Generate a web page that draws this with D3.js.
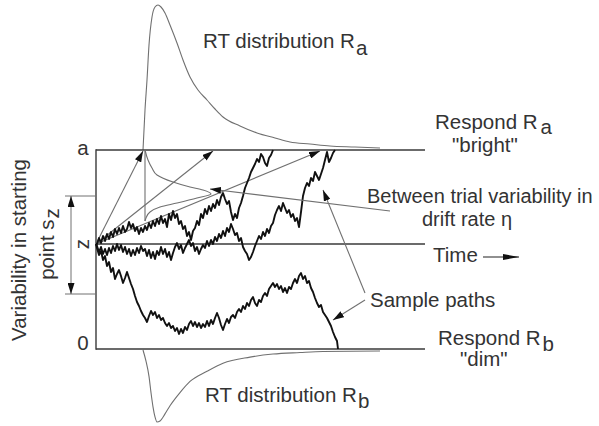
<!DOCTYPE html>
<html>
<head>
<meta charset="utf-8">
<script src="https://cdn.jsdelivr.net/npm/d3@7"></script>
<style>
  html, body { margin: 0; padding: 0; background: #fff; }
  svg { display: block; }
  text { font-family: "Liberation Sans", Arial, Helvetica, sans-serif; fill: #333; }
</style>
</head>
<body>
<svg id="chart" width="599" height="426"></svg>
<script>
// ---------- data (time units t, evidence units e) ----------
const boundaryA = 199;        // upper boundary "a"
const startZ = 105;           // starting point z
const szRange = [55, 153];    // range of starting point variability
const timeEnd = 329;          // extent of boundaries / time axis

// RT distribution at upper boundary [t, density]
const rtA = [[47,0],[49,40],[51,70],[53,105],[56,133],[59,143],[62,145],[65,143],[69,137],[74,125],
  [81,107],[87,90],[94,73],[102,60],[111,50],[119,41],[127,33],[144,24],[161,17],[179,12],[194,8],
  [214,6],[234,4],[259,3],[284,2]];
// RT distribution at lower boundary [t, density]
const rtB = [[47,0],[50,11],[53,26],[55,42],[57,56],[59,66],[61,71],[64,70],[69,63],[74,55],[84,42],
  [94,31],[111,21],[127,13],[154,7],[177,4],[204,2.5],[227,1.5],[284,1]];

// distribution of drift rates (drawn sideways) [e, density]
const driftAxisT = 49;
const driftDist = [[199,0],[189,3],[181,7],[174,12],[167,28],[162,45],[159,58],[155,66],[151,52],
  [146,32],[142,15],[137,5],[131,1],[128,0]];
// drift lines: end time where each mean drift reaches boundary a
const driftEnds = [47, 117, 224];

// sample paths [t, e]
const pathA = [[0,105],[1,105],[3,111],[5,106],[7,113],[9,108],[11,115],[13,110],[15,117],[17,112],[19,120],[21,115],[23,121],[25,116],[27,123],[29,117],[31,120],[33,127],[35,121],[37,125],[39,118],[41,122],[43,115],[45,121],[47,117],[49,123],[51,119],[53,126],[55,121],[57,128],[59,123],[61,130],[63,125],[65,133],[67,126],[69,130],[71,122],[73,135],[75,129],[77,138],[79,131],[81,135],[83,125],[85,128],[87,120],[89,123],[91,113],[93,117],[95,109],[97,118],[99,121],[101,128],[103,124],[105,135],[107,131],[109,140],[111,135],[113,143],[115,138],[117,145],[119,141],[121,149],[123,144],[125,152],[127,156],[129,150],[131,145],[133,148],[135,137],[137,129],[139,135],[141,131],[143,141],[145,146],[147,153],[149,161],[151,166],[153,171],[155,177],[157,181],[159,185],[161,190],[163,187],[165,195],[167,192],[169,186],[171,183],[173,191],[175,194],[177,199]];
const pathB = [[0,105],[1,103],[3,97],[5,102],[7,95],[9,100],[11,94],[13,101],[15,96],[17,103],[19,98],[21,105],[23,99],[25,104],[27,97],[29,102],[31,95],[33,100],[35,93],[37,99],[39,94],[41,101],[43,96],[45,103],[47,98],[49,100],[51,93],[53,99],[55,91],[57,97],[59,90],[61,98],[63,94],[65,102],[67,95],[69,100],[71,92],[73,97],[75,89],[77,96],[79,102],[81,106],[83,100],[85,104],[87,96],[89,101],[91,105],[93,109],[95,103],[97,106],[99,98],[101,102],[103,95],[105,100],[107,104],[109,101],[111,108],[113,103],[115,109],[117,105],[119,112],[121,108],[123,115],[125,111],[127,118],[129,113],[131,121],[133,117],[135,125],[137,120],[139,114],[141,116],[143,108],[145,111],[147,102],[149,98],[151,95],[153,89],[155,92],[157,97],[159,103],[161,108],[163,113],[165,110],[167,117],[169,113],[171,120],[173,116],[175,123],[177,126],[179,134],[181,139],[183,143],[185,138],[187,146],[189,141],[191,136],[193,139],[195,132],[197,135],[199,128],[201,131],[203,122],[205,137],[207,153],[209,161],[211,166],[213,163],[215,171],[217,168],[219,177],[221,173],[223,169],[225,175],[227,181],[229,189],[231,197],[233,187],[235,191],[237,196],[239,199]];
const pathC = [[0,105],[1,101],[3,94],[5,98],[7,89],[9,93],[11,83],[13,87],[15,77],[17,81],[19,70],[21,75],[23,79],[25,73],[27,66],[29,71],[31,77],[33,71],[35,65],[37,60],[39,53],[41,47],[43,43],[45,38],[47,34],[49,31],[51,27],[53,33],[55,38],[57,34],[59,37],[61,31],[63,34],[65,29],[67,31],[69,26],[71,23],[73,26],[75,21],[77,23],[79,18],[81,21],[83,15],[85,20],[87,16],[89,22],[91,19],[93,25],[95,28],[97,23],[99,27],[101,22],[103,26],[105,21],[107,25],[109,22],[111,28],[113,23],[115,29],[117,25],[119,31],[121,36],[123,31],[125,24],[127,19],[129,25],[131,30],[133,26],[135,32],[137,34],[139,31],[141,37],[143,40],[145,37],[147,43],[149,40],[151,46],[153,43],[155,49],[157,52],[159,46],[161,43],[163,49],[165,47],[167,53],[169,56],[171,53],[173,60],[175,63],[177,66],[179,62],[181,65],[183,60],[185,63],[187,57],[189,61],[191,56],[193,62],[195,60],[197,66],[199,70],[201,66],[203,73],[205,76],[207,70],[209,73],[211,66],[213,68],[215,61],[217,57],[219,51],[221,46],[223,42],[225,44],[227,37],[229,34],[231,31],[233,27],[235,23],[237,17],[239,12],[241,8],[242,0]];
const samplePaths = [pathA, pathB, pathC];

// annotation pointers [from [t,e], to [t,e]]
const etaPointer = [[294,138],[114,160]];
const samplePointers = [[[269,49],[237,29]], [[269,56],[227,159]]];

// ---------- drawing ----------
const svg = d3.select("#chart");
const x = d3.scaleLinear().domain([0, timeEnd]).range([96, 425]);
const y = d3.scaleLinear().domain([0, boundaryA]).range([349, 150]);
const dA = d3.scaleLinear().domain([0, 145]).range([y(boundaryA), y(boundaryA) - 145]);
const dB = d3.scaleLinear().domain([0, 71]).range([y(0) + 1, y(0) + 73]);
const off = d3.scaleLinear().domain([0, 329]).range([0, 329]);

const defs = svg.append("defs");
function marker(id, len, half, color) {
  defs.append("marker").attr("id", id)
    .attr("viewBox", `0 ${-half} ${len} ${2*half}`)
    .attr("refX", len).attr("refY", 0)
    .attr("markerUnits", "userSpaceOnUse")
    .attr("markerWidth", len).attr("markerHeight", 2*half)
    .attr("orient", "auto-start-reverse")
    .append("path").attr("d", `M0,${-half}L${len},0L0,${half}Z`).attr("fill", color);
}
marker("arr", 11, 3.5, "#111");
marker("arrT", 16, 3, "#111");

const gray = "#707070";
const dark = "#3a3a3a";

// RT distributions
svg.append("path").datum(rtA)
  .attr("d", d3.line().x(d => x(d[0])).y(d => dA(d[1])).curve(d3.curveMonotoneX))
  .attr("fill", "none").attr("stroke", gray).attr("stroke-width", 1.1);
svg.append("path").datum(rtB)
  .attr("d", d3.line().x(d => x(d[0])).y(d => dB(d[1])).curve(d3.curveMonotoneX))
  .attr("fill", "none").attr("stroke", gray).attr("stroke-width", 1.1);

// boundaries and time axis
[boundaryA, startZ, 0].forEach(v => {
  svg.append("line").attr("x1", x(0)).attr("x2", x(timeEnd)).attr("y1", y(v)).attr("y2", y(v))
    .attr("stroke", dark).attr("stroke-width", 1.4);
});
svg.append("line").attr("x1", x(0)).attr("x2", x(0)).attr("y1", y(0) + 0.7).attr("y2", y(boundaryA) - 0.7)
  .attr("stroke", dark).attr("stroke-width", 1.4);

// starting point variability bracket
szRange.forEach(v => {
  svg.append("line").attr("x1", x(-31)).attr("x2", x(0)).attr("y1", y(v)).attr("y2", y(v))
    .attr("stroke", gray).attr("stroke-width", 1);
});
svg.append("line").attr("x1", x(-25)).attr("x2", x(-25)).attr("y1", y(szRange[0])).attr("y2", y(szRange[1]))
  .attr("stroke", gray).attr("stroke-width", 1)
  .attr("marker-start", "url(#arr)").attr("marker-end", "url(#arr)");

// drift rate distribution (sideways)
svg.append("line").attr("x1", x(driftAxisT)).attr("x2", x(driftAxisT))
  .attr("y1", y(driftDist[0][0])).attr("y2", y(driftDist[driftDist.length - 1][0]))
  .attr("stroke", gray).attr("stroke-width", 1.1);
svg.append("path").datum(driftDist)
  .attr("d", d3.line().x(d => x(driftAxisT) + off(d[1])).y(d => y(d[0])).curve(d3.curveMonotoneY))
  .attr("fill", "none").attr("stroke", gray).attr("stroke-width", 1.1);

// drift lines
driftEnds.forEach(t => {
  svg.append("line").attr("x1", x(0)).attr("y1", y(startZ)).attr("x2", x(t)).attr("y2", y(boundaryA) + 1)
    .attr("stroke", gray).attr("stroke-width", 1.1).attr("marker-end", "url(#arr)");
});

// sample paths
const pl = d3.line().x(d => x(d[0])).y(d => y(d[1]));
svg.selectAll("path.sample").data(samplePaths).join("path").attr("class", "sample")
  .attr("d", pl).attr("fill", "none").attr("stroke", "#111").attr("stroke-width", 1.9)
  .attr("stroke-linejoin", "round");

// pointers
svg.append("line").attr("x1", x(etaPointer[0][0])).attr("y1", y(etaPointer[0][1]))
  .attr("x2", x(etaPointer[1][0])).attr("y2", y(etaPointer[1][1]))
  .attr("stroke", gray).attr("stroke-width", 1.1).attr("marker-end", "url(#arr)");
samplePointers.forEach(p => {
  svg.append("line").attr("x1", x(p[0][0])).attr("y1", y(p[0][1]))
    .attr("x2", x(p[1][0])).attr("y2", y(p[1][1]))
    .attr("stroke", gray).attr("stroke-width", 1.1).attr("marker-end", "url(#arr)");
});

// time arrow
svg.append("line").attr("x1", 483).attr("x2", 519).attr("y1", 257).attr("y2", 257)
  .attr("stroke", "#222").attr("stroke-width", 1.2).attr("marker-end", "url(#arrT)");

// ---------- text ----------
const FS = 20.5;
function label(xp, yp, parts, anchor, fs) {
  const t = svg.append("text").attr("x", xp).attr("y", yp).attr("font-size", fs || FS)
    .attr("text-anchor", anchor || "start");
  parts.forEach(p => {
    if (typeof p === "string") t.append("tspan").text(p);
    else t.append("tspan").attr("dx", p.dx || 0).attr("dy", p.dy).text(p.s);
  });
  return t;
}
label(203, 48, ["RT distribution R", {s: "a", dy: 7, dx: 1}]);
label(435, 129, ["Respond R", {s: "a", dy: 5, dx: 3}]);
label(452, 152, ["\"bright\""]);
label(367, 203, ["Between trial variability in"], "start", 20);
label(422, 226, ["drift rate \u03b7"], "start", 20);
label(433, 262, ["Time"]);
label(370, 307, ["Sample paths"]);
label(438, 345, ["Respond R", {s: "b", dy: 6, dx: 2}]);
label(460, 366, ["\"dim\""]);
label(205, 402, ["RT distribution R", {s: "b", dy: 6, dx: 1}]);

label(83, y(boundaryA) + 5, ["a"], "middle");
label(83, y(0) + 1, ["0"], "middle");
svg.append("text").attr("font-size", FS).attr("text-anchor", "middle")
  .attr("transform", `translate(89,${y(startZ)}) rotate(-90)`).text("z");

svg.append("text").attr("font-size", FS).attr("text-anchor", "middle")
  .attr("transform", "translate(26,250) rotate(-90)").text("Variability in starting");
const t2 = svg.append("text").attr("font-size", FS).attr("text-anchor", "middle")
  .attr("transform", "translate(54,244) rotate(-90)");
t2.append("tspan").text("point s");
t2.append("tspan").attr("dy", 5).attr("dx", 1).text("z");
</script>
</body>
</html>
